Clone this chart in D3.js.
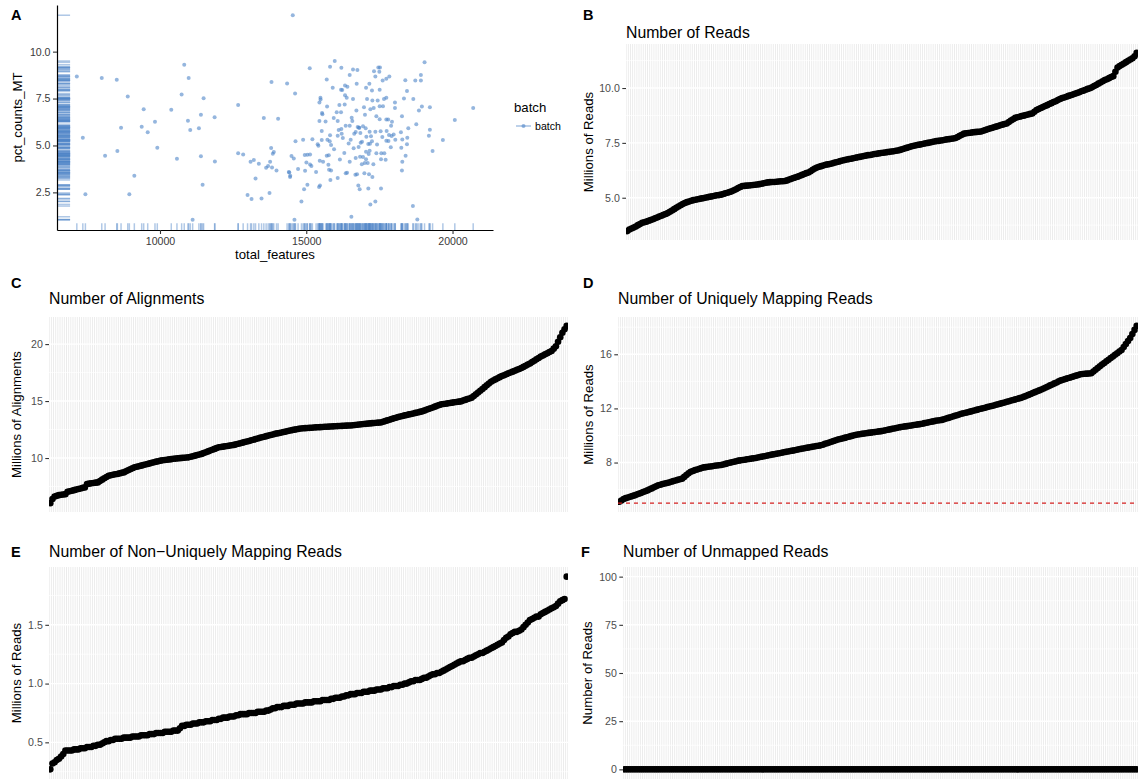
<!DOCTYPE html>
<html>
<head>
<meta charset="utf-8">
<script src="https://cdn.jsdelivr.net/npm/d3@7"></script>
<style>
  body { margin: 0; background: #fff; }
  svg { display: block; font-family: "Liberation Sans", Arial, Helvetica, sans-serif; }
</style>
</head>
<body>
<svg id="fig" width="1138" height="779"></svg>
<script>
// ---------- Panel A: per-cell QC, [total_features, pct_counts_MT] ----------
const featuresVsMT = [
  [7157,8.68],[7362,5.41],[7450,2.40],[8010,8.59],[8123,4.45],[8522,8.50],[8543,4.70],[8669,5.95],[8898,7.61],[8952,2.40],
  [9123,3.38],[9375,6.00],[9443,6.93],[9580,5.70],[9829,6.27],[9908,4.88],[10386,6.90],[10580,4.29],[10740,7.71],[10829,9.30],
  [10956,6.32],[10980,8.59],[11034,5.82],[11116,1.04],[11331,5.92],[11399,6.63],[11399,4.42],[11457,2.90],[11491,7.52],[11867,6.50],
  [11877,4.15],[12672,7.16],[12672,4.58],[12843,4.52],[12993,2.36],[13096,4.13],[13130,2.15],[13208,4.22],[13266,3.24],[13379,4.03],
  [13471,2.18],[13549,6.47],[13628,3.81],[13696,3.90],[13744,2.47],[13765,4.13],[13799,4.86],[13812,8.38],[13830,3.83],[13857,4.56],
  [13891,4.65],[13983,3.67],[14038,6.43],[14345,8.30],[14403,3.58],[14420,3.56],[14447,3.32],[14452,3.38],[14495,4.44],[14539,11.94],
  [14573,4.31],[14597,1.04],[14618,7.77],[14632,5.22],[14720,3.74],
  [15973,9.50],[15813,9.20],[16200,9.14],[15119,9.11],[16598,9.05],[16748,9.02],[17464,9.16],[17520,9.16],[17316,8.95],[17498,8.93],
  [19044,9.43],[18919,8.75],[16485,8.75],[17362,8.68],[17840,8.68],[17737,8.55],[17612,8.46],[15700,8.52],[16325,8.20],[16406,8.13],
  [16724,8.29],[17157,8.29],[17044,8.07],[17509,7.97],[17247,7.93],[15904,8.07],[18386,8.48],[18727,8.46],[18919,8.46],[18443,7.90],
  [16188,7.97],[16230,7.95],[16325,7.68],[16383,7.54],[16598,7.48],[15485,7.54],[15490,7.45],[15450,7.29],[16132,7.15],[16314,7.18],
  [17078,7.48],[17260,7.39],[17441,7.39],[17657,7.48],[17737,7.54],[17509,7.09],[17623,7.09],[18032,7.29],[18340,7.50],[18659,7.48],
  [18953,7.07],[18851,6.86],[19226,7.04],[20706,7.00],[20078,6.36],[18761,6.13],[19226,5.84],[19192,5.52],[19318,4.70],[19670,5.29],
  [18272,6.56],[18032,7.00],[17930,6.27],[17737,6.38],[17800,6.38],[17509,6.40],[17396,6.56],[17305,6.99],[17191,6.93],[16973,7.04],
  [17007,6.64],[16714,6.86],[16553,6.48],[16575,6.31],[16188,6.77],[16041,6.77],[15939,6.47],[16075,6.31],[15540,6.73],[15450,6.31],
  [15712,7.07],[15660,6.28],[16348,6.05],[16485,6.05],[16758,5.98],[16815,5.95],[16940,6.02],[17031,5.92],[17167,5.73],[17362,5.73],
  [17543,5.76],[17748,5.77],[17828,5.56],[17918,5.50],[17987,5.59],[18044,5.30],[17737,5.25],[17810,5.24],[18236,5.70],[18454,5.41],
  [18488,5.92],[18283,5.32],[18443,5.06],[18249,4.88],[18396,4.45],[18283,4.13],[18271,3.67],[16200,5.88],[16109,5.82],[16211,5.63],
  [16075,5.52],[16519,5.30],[16690,5.72],[16640,5.63],[16849,5.66],[16800,5.95],[16906,5.20],[17054,5.47],[17213,5.49],[17247,5.22],
  [17120,5.08],[17043,4.66],[17167,4.72],[17134,4.54],[17396,4.58],[17566,4.58],[17668,4.58],[17555,4.26],[17714,4.24],[17043,4.27],
  [17100,4.06],[17000,4.06],[16900,4.00],[17294,4.00],[17260,3.32],[17145,3.47],[16987,3.52],[16735,3.47],[16680,3.44],[16394,3.54],
  [16350,3.52],[15802,5.23],[15848,5.03],[15723,5.30],[15415,4.98],[15529,5.29],[15700,4.45],[15770,4.48],[15575,4.13],[15461,4.18],
  [15757,3.97],[15848,3.67],[15825,3.16],[16075,3.27],[16485,4.13],[16690,4.33],[16840,4.40],[16940,4.38],[16860,5.14],[16790,4.92],
  [17178,5.09],[16780,2.86],[16826,2.67],[17122,2.70],[17555,2.70],[17191,1.86],[17362,2.02],[16542,1.20],[18645,1.77],[18796,1.06],
  [14835,2.02],[14926,2.67],[15039,2.90],[15438,2.79],[15470,2.86],[15005,4.09],[14949,4.49],[15039,4.51],[15130,4.52],[15130,3.99],
  [15176,3.90],[14960,3.65],[14892,5.30],[15210,5.33],[15390,5.06],[15336,3.58],[15780,3.70],[15529,5.77],[15552,6.66],[15813,5.54],
  [16250,5.40],[16450,5.10],[16620,4.85],[17420,5.05],[17600,5.45],[17890,4.90],[16300,4.60],[15950,4.80],[16150,4.25],[17900,6.05]
];
const featureTicks = [10000, 15000, 20000];
const mtTicks = [2.5, 5.0, 7.5, 10.0];
const mtTickLabels = ["2.5", "5.0", "7.5", "10.0"];
const batchLevels = ["batch"];

// ---------- Panels B-F: per-cell mapping statistics, sorted ascending ----------
const numReads = [
  3.48,3.55,3.60,3.64,3.69,3.75,3.80,3.86,3.88,3.91,
  3.95,3.98,4.02,4.06,4.10,4.14,4.18,4.22,4.26,4.30,
  4.36,4.42,4.48,4.54,4.60,4.66,4.71,4.76,4.80,4.83,
  4.86,4.89,4.91,4.93,4.95,4.97,4.99,5.01,5.03,5.05,
  5.07,5.09,5.11,5.12,5.14,5.17,5.20,5.23,5.26,5.29,
  5.34,5.39,5.44,5.49,5.53,5.54,5.55,5.56,5.57,5.58,
  5.59,5.60,5.62,5.64,5.66,5.68,5.70,5.71,5.72,5.72,
  5.73,5.74,5.75,5.75,5.76,5.79,5.83,5.86,5.90,5.93,
  5.96,6.00,6.04,6.08,6.12,6.15,6.21,6.27,6.33,6.38,
  6.41,6.44,6.47,6.50,6.52,6.54,6.56,6.59,6.62,6.64,
  6.67,6.70,6.72,6.74,6.76,6.78,6.80,6.82,6.84,6.86,
  6.88,6.90,6.92,6.94,6.95,6.97,6.99,7.00,7.02,7.04,
  7.05,7.06,7.08,7.09,7.11,7.12,7.14,7.15,7.18,7.21,
  7.24,7.27,7.30,7.33,7.36,7.38,7.40,7.42,7.44,7.46,
  7.48,7.50,7.52,7.54,7.56,7.58,7.59,7.61,7.62,7.64,
  7.66,7.67,7.69,7.70,7.72,7.77,7.82,7.87,7.92,7.94,
  7.95,7.96,7.98,7.99,8.00,8.01,8.02,8.05,8.09,8.12,
  8.15,8.18,8.21,8.24,8.27,8.30,8.33,8.36,8.38,8.45,
  8.52,8.58,8.64,8.67,8.69,8.72,8.74,8.77,8.79,8.82,
  8.84,8.92,9.00,9.04,9.09,9.13,9.18,9.22,9.27,9.31,
  9.36,9.40,9.45,9.50,9.54,9.57,9.60,9.64,9.67,9.70,
  9.74,9.77,9.81,9.85,9.88,9.92,9.96,9.99,10.03,10.09,
  10.14,10.20,10.25,10.31,10.36,10.40,10.45,10.50,10.54,10.74,
  10.93,11.00,11.06,11.12,11.18,11.24,11.30,11.36,11.45,11.60
];
const numAlignments = [
  6.04,6.40,6.62,6.68,6.74,6.77,6.80,6.83,7.04,7.08,
  7.13,7.18,7.23,7.28,7.33,7.38,7.42,7.72,7.75,7.78,
  7.81,7.84,7.86,7.98,8.10,8.22,8.34,8.45,8.49,8.53,
  8.57,8.60,8.65,8.70,8.74,8.83,8.92,9.01,9.10,9.18,
  9.23,9.28,9.33,9.38,9.43,9.48,9.53,9.58,9.63,9.68,
  9.72,9.77,9.80,9.83,9.85,9.88,9.90,9.93,9.95,9.97,
  9.99,10.01,10.02,10.04,10.06,10.11,10.16,10.21,10.26,10.31,
  10.36,10.43,10.51,10.58,10.65,10.72,10.80,10.87,10.94,10.97,
  11.00,11.03,11.06,11.09,11.12,11.15,11.20,11.25,11.30,11.35,
  11.40,11.45,11.50,11.56,11.61,11.66,11.71,11.77,11.82,11.87,
  11.92,11.97,12.02,12.07,12.12,12.16,12.20,12.24,12.28,12.32,
  12.37,12.41,12.45,12.49,12.52,12.56,12.59,12.61,12.62,12.64,
  12.65,12.66,12.68,12.69,12.70,12.71,12.72,12.74,12.75,12.76,
  12.77,12.78,12.79,12.80,12.81,12.82,12.83,12.84,12.85,12.86,
  12.88,12.90,12.92,12.94,12.96,12.98,13.00,13.02,13.04,13.06,
  13.08,13.10,13.11,13.12,13.18,13.24,13.30,13.36,13.42,13.48,
  13.54,13.60,13.65,13.69,13.74,13.78,13.83,13.87,13.91,13.96,
  14.00,14.05,14.09,14.16,14.23,14.30,14.37,14.44,14.51,14.58,
  14.65,14.71,14.74,14.77,14.80,14.83,14.86,14.89,14.92,14.95,
  14.97,15.04,15.10,15.17,15.23,15.30,15.45,15.60,15.75,15.90,
  16.06,16.22,16.38,16.54,16.70,16.80,16.90,17.00,17.10,17.20,
  17.27,17.35,17.43,17.50,17.58,17.66,17.74,17.82,17.90,18.00,
  18.10,18.20,18.30,18.42,18.54,18.66,18.78,18.90,19.00,19.10,
  19.20,19.30,19.40,19.60,19.80,20.20,20.60,21.00,21.30,21.60
];
const numUniqueReads = [
  5.10,5.19,5.31,5.37,5.42,5.47,5.52,5.57,5.63,5.69,
  5.75,5.82,5.88,5.94,6.02,6.09,6.17,6.25,6.32,6.36,
  6.41,6.45,6.49,6.53,6.58,6.63,6.67,6.72,6.76,6.81,
  6.94,7.07,7.20,7.32,7.38,7.44,7.49,7.54,7.59,7.64,
  7.66,7.69,7.71,7.73,7.76,7.78,7.80,7.82,7.86,7.90,
  7.94,7.98,8.02,8.06,8.10,8.14,8.16,8.19,8.21,8.24,
  8.26,8.29,8.31,8.34,8.37,8.41,8.44,8.47,8.50,8.54,
  8.57,8.60,8.63,8.66,8.69,8.72,8.76,8.79,8.82,8.85,
  8.88,8.91,8.94,8.98,9.01,9.04,9.07,9.10,9.13,9.16,
  9.19,9.22,9.24,9.27,9.32,9.38,9.43,9.48,9.54,9.59,
  9.65,9.70,9.74,9.78,9.82,9.86,9.91,9.95,9.99,10.03,
  10.07,10.09,10.12,10.14,10.16,10.19,10.21,10.23,10.25,10.28,
  10.30,10.32,10.35,10.39,10.42,10.45,10.49,10.52,10.55,10.59,
  10.62,10.64,10.67,10.69,10.72,10.74,10.77,10.79,10.82,10.84,
  10.87,10.91,10.94,10.98,11.01,11.04,11.08,11.11,11.13,11.15,
  11.20,11.25,11.30,11.35,11.40,11.45,11.50,11.55,11.60,11.64,
  11.68,11.72,11.76,11.80,11.85,11.89,11.93,11.97,12.01,12.05,
  12.10,12.14,12.18,12.22,12.27,12.31,12.35,12.40,12.44,12.49,
  12.53,12.58,12.62,12.67,12.71,12.76,12.80,12.87,12.93,13.00,
  13.07,13.13,13.20,13.27,13.33,13.40,13.47,13.55,13.62,13.70,
  13.77,13.85,13.92,14.00,14.07,14.12,14.17,14.22,14.27,14.32,
  14.37,14.42,14.47,14.52,14.54,14.56,14.57,14.58,14.60,14.72,
  14.86,14.99,15.12,15.24,15.36,15.48,15.60,15.72,15.84,15.96,
  16.08,16.20,16.32,16.54,16.76,16.98,17.20,17.50,17.80,18.10
];
const numMultiReads = [
  0.27,0.32,0.33,0.35,0.36,0.38,0.40,0.43,0.43,0.43,
  0.43,0.44,0.44,0.44,0.45,0.45,0.45,0.46,0.46,0.46,
  0.47,0.47,0.48,0.48,0.49,0.50,0.51,0.51,0.52,0.52,
  0.53,0.53,0.53,0.53,0.54,0.54,0.54,0.54,0.55,0.55,
  0.55,0.55,0.56,0.56,0.56,0.56,0.57,0.57,0.57,0.58,
  0.58,0.58,0.58,0.59,0.59,0.59,0.59,0.60,0.60,0.60,
  0.62,0.64,0.64,0.65,0.65,0.65,0.66,0.66,0.66,0.67,
  0.67,0.67,0.68,0.68,0.68,0.69,0.69,0.69,0.70,0.70,
  0.71,0.71,0.71,0.72,0.72,0.72,0.73,0.73,0.74,0.74,
  0.74,0.74,0.75,0.75,0.75,0.75,0.76,0.76,0.76,0.76,
  0.77,0.77,0.78,0.79,0.79,0.80,0.80,0.80,0.81,0.81,
  0.81,0.82,0.82,0.82,0.83,0.83,0.83,0.83,0.84,0.84,
  0.84,0.84,0.85,0.85,0.85,0.85,0.86,0.86,0.86,0.86,
  0.87,0.87,0.88,0.88,0.88,0.89,0.89,0.90,0.90,0.91,
  0.91,0.91,0.92,0.92,0.92,0.93,0.93,0.93,0.94,0.94,
  0.94,0.95,0.95,0.95,0.96,0.96,0.96,0.97,0.97,0.98,
  0.98,0.98,0.99,0.99,1.00,1.00,1.01,1.02,1.02,1.03,
  1.03,1.03,1.04,1.05,1.05,1.06,1.07,1.08,1.08,1.09,
  1.09,1.10,1.11,1.12,1.13,1.14,1.15,1.16,1.17,1.18,
  1.19,1.19,1.20,1.21,1.22,1.22,1.23,1.24,1.25,1.26,
  1.26,1.27,1.28,1.29,1.30,1.31,1.32,1.33,1.34,1.35,
  1.37,1.39,1.40,1.42,1.43,1.44,1.44,1.45,1.46,1.48,
  1.50,1.52,1.54,1.55,1.56,1.57,1.57,1.59,1.60,1.61,
  1.62,1.63,1.64,1.65,1.66,1.68,1.70,1.71,1.72,1.91
];
const numUnmapped = [
  0,0,0,0,0,0,0,0,0,0, 0,0,0,0,0,0,0,0,0,0, 0,0,0,0,0,0,0,0,0,0, 0,0,0,0,0,0,0,0,0,0,
  0,0,0,0,0,0,0,0,0,0, 0,0,0,0,0,0,0,0,0,0, 0,0,0,0,0,0,0,0,0,0, 0,0,0,0,0,0,0,0,0,0,
  0,0,0,0,0,0,0,0,0,0, 0,0,0,0,0,0,0,0,0,0, 0,0,0,0,0,0,0,0,0,0, 0,0,0,0,0,0,0,0,0,0,
  0,0,0,0,0,0,0,0,0,0, 0,0,0,0,0,0,0,0,0,0, 0,0,0,0,0,0,0,0,0,0, 0,0,0,0,0,0,0,0,0,0,
  0,0,0,0,0,0,0,0,0,0, 0,0,0,0,0,0,0,0,0,0, 0,0,0,0,0,0,0,0,0,0, 0,0,0,0,0,0,0,0,0,0,
  0,0,0,0,0,0,0,0,0,0, 0,0,0,0,0,0,0,0,0,0, 0,0,0,0,0,0,0,0,0,0, 0,0,0,0,0,0,0,0,0,0
];
const uniqueReadsCutoff = 5;
const unmappedLimits = [0, 100];

const readsTicks = [5, 7.5, 10],           readsTickLabels = ["5.0", "7.5", "10.0"];
const alignTicks = [10, 15, 20],           alignTickLabels = ["10", "15", "20"];
const uniqueTicks = [8, 12, 16],           uniqueTickLabels = ["8", "12", "16"];
const multiTicks = [0.5, 1.0, 1.5],        multiTickLabels = ["0.5", "1.0", "1.5"];
const unmappedTicks = [0, 25, 50, 75, 100], unmappedTickLabels = ["0", "25", "50", "75", "100"];

// ---------- drawing ----------
const svg = d3.select("#fig");
const BLUE = "#4f86c8";

function expand(ext, mult = 0.05) {
  const s = ext[1] - ext[0];
  return [ext[0] - s * mult, ext[1] + s * mult];
}

function tag(letter, x, y) {
  svg.append("text").attr("x", x).attr("y", y).text(letter)
    .attr("font-size", 14.5).attr("font-weight", "bold").attr("fill", "#000");
}

// Panel A: scatter with marginal rugs
(function () {
  const L = 57, R = 493, T = 5, B = 230;
  const x = d3.scaleLinear().domain(expand(d3.extent(featuresVsMT, d => d[0]))).range([L, R]);
  const y = d3.scaleLinear().domain(expand(d3.extent(featuresVsMT, d => d[1]))).range([B, T]);
  const g = svg.append("g");

  g.append("g").selectAll("line").data(featuresVsMT).join("line")
    .attr("x1", L).attr("x2", L + 0.03 * (R - L))
    .attr("y1", d => y(d[1])).attr("y2", d => y(d[1]))
    .attr("stroke", BLUE).attr("stroke-opacity", 0.45).attr("stroke-width", 1.5);
  g.append("g").selectAll("line").data(featuresVsMT).join("line")
    .attr("x1", d => x(d[0])).attr("x2", d => x(d[0]))
    .attr("y1", B).attr("y2", B - 0.03 * (B - T))
    .attr("stroke", BLUE).attr("stroke-opacity", 0.45).attr("stroke-width", 1.5);

  g.append("g").selectAll("circle").data(featuresVsMT).join("circle")
    .attr("cx", d => x(d[0])).attr("cy", d => y(d[1])).attr("r", 2)
    .attr("fill", BLUE).attr("fill-opacity", 0.6);

  const xa = g.append("g").attr("transform", `translate(0,${B})`)
    .call(d3.axisBottom(x).tickValues(featureTicks).tickFormat(d3.format("d"))
      .tickSize(4).tickSizeOuter(0).tickPadding(3));
  const ya = g.append("g").attr("transform", `translate(${L},0)`)
    .call(d3.axisLeft(y).tickValues(mtTicks).tickFormat((d, i) => mtTickLabels[i])
      .tickSize(4).tickSizeOuter(0).tickPadding(2.5));
  [xa, ya].forEach(a => {
    a.select(".domain").attr("stroke", "#000").attr("stroke-width", 1.2);
    a.selectAll(".tick line").attr("stroke", "#333").attr("stroke-width", 1.1);
    a.selectAll(".tick text").attr("fill", "#3a3a3a").attr("font-size", 10.6)
      .attr("font-family", null);
  });

  g.append("text").attr("x", (L + R) / 2).attr("y", 259).attr("text-anchor", "middle")
    .attr("font-size", 13.2).text("total_features");
  g.append("text").attr("transform", `translate(22,${(T + B) / 2}) rotate(-90)`)
    .attr("text-anchor", "middle").attr("font-size", 13.2).text("pct_counts_MT");

  // legend
  const lg = g.append("g");
  lg.append("text").attr("x", 514).attr("y", 112).attr("font-size", 13.2).text("batch");
  lg.selectAll("g.key").data(batchLevels).join("g").attr("class", "key")
    .each(function (d, i) {
      const k = d3.select(this), ky = 126 + i * 17;
      k.append("line").attr("x1", 516).attr("x2", 531).attr("y1", ky).attr("y2", ky)
        .attr("stroke", BLUE).attr("stroke-opacity", 0.5).attr("stroke-width", 1.5);
      k.append("circle").attr("cx", 523.5).attr("cy", ky).attr("r", 2)
        .attr("fill", BLUE).attr("fill-opacity", 0.6);
      k.append("text").attr("x", 535).attr("y", ky + 3.8).attr("font-size", 10.6).text(d);
    });
  tag("A", 11, 20);
})();

// Panels B-F: sorted per-cell values on a discrete axis
function seriesPanel(p) {
  const [L, T, R, B] = p.box;
  const n = p.values.length;
  const x = d3.scalePoint().domain(d3.range(n)).range([L, R]).padding(0.6);
  const dom = p.limits ? expand(p.limits)
    : expand(d3.extent(p.hline != null ? p.values.concat([p.hline]) : p.values));
  const y = d3.scaleLinear().domain(dom).range([B, T]);
  const g = svg.append("g");
  const clipId = "clip" + p.tag;
  svg.append("clipPath").attr("id", clipId)
    .append("rect").attr("x", L).attr("y", T).attr("width", R - L).attr("height", B - T);

  g.append("rect").attr("x", L).attr("y", T).attr("width", R - L).attr("height", B - T)
    .attr("fill", "#ebebeb");

  const step = p.ticks[1] - p.ticks[0];
  const minors = [p.ticks[0] - step / 2]
    .concat(p.ticks.map(t => t + step / 2))
    .filter(v => v >= dom[0] && v <= dom[1]);
  g.append("g").selectAll("line").data(minors).join("line")
    .attr("x1", L).attr("x2", R).attr("y1", d => y(d)).attr("y2", d => y(d))
    .attr("stroke", "#fff").attr("stroke-width", 0.7);
  g.append("g").selectAll("line").data(d3.range(n)).join("line")
    .attr("x1", d => x(d)).attr("x2", d => x(d)).attr("y1", T).attr("y2", B)
    .attr("stroke", "#fff").attr("stroke-width", 1.25);
  g.append("g").selectAll("line").data(p.ticks).join("line")
    .attr("x1", L).attr("x2", R).attr("y1", d => y(d)).attr("y2", d => y(d))
    .attr("stroke", "#fff").attr("stroke-width", 1.4);

  const pts = g.append("g").attr("clip-path", `url(#${clipId})`);
  pts.selectAll("circle").data(p.values).join("circle")
    .attr("cx", (d, i) => x(i)).attr("cy", d => y(d)).attr("r", 3.3).attr("fill", "#000");
  if (p.hline != null) {
    pts.append("line").attr("x1", L).attr("x2", R)
      .attr("y1", y(p.hline)).attr("y2", y(p.hline))
      .attr("stroke", "#d42020").attr("stroke-width", 1.1).attr("stroke-dasharray", "4,4");
  }

  const ya = g.append("g").attr("transform", `translate(${L},0)`)
    .call(d3.axisLeft(y).tickValues(p.ticks).tickFormat((d, i) => p.tickLabels[i])
      .tickSize(3.7).tickSizeOuter(0).tickPadding(2.5));
  ya.select(".domain").remove();
  ya.selectAll(".tick line").attr("stroke", "#333").attr("stroke-width", 1.1);
  ya.selectAll(".tick text").attr("fill", "#4d4d4d").attr("font-size", 10.6)
    .attr("font-family", null);

  g.append("text").attr("x", L).attr("y", p.titleY).attr("font-size", 15.8).text(p.title);
  g.append("text").attr("transform", `translate(${p.ytitleX},${(T + B) / 2}) rotate(-90)`)
    .attr("text-anchor", "middle").attr("font-size", 13.2).text(p.ytitle);
  tag(p.tag, p.tagPos[0], p.tagPos[1]);
}

seriesPanel({ tag: "B", title: "Number of Reads", ytitle: "Millions of Reads",
  values: numReads, ticks: readsTicks, tickLabels: readsTickLabels,
  box: [626, 44, 1138, 240], titleY: 38, ytitleX: 593, tagPos: [583, 20] });
seriesPanel({ tag: "C", title: "Number of Alignments", ytitle: "Millions of Alignments",
  values: numAlignments, ticks: alignTicks, tickLabels: alignTickLabels,
  box: [49, 317, 568, 512], titleY: 304, ytitleX: 21, tagPos: [11, 288] });
seriesPanel({ tag: "D", title: "Number of Uniquely Mapping Reads", ytitle: "Millions of Reads",
  values: numUniqueReads, ticks: uniqueTicks, tickLabels: uniqueTickLabels, hline: uniqueReadsCutoff,
  box: [618, 317, 1138, 512], titleY: 304, ytitleX: 593, tagPos: [583, 288] });
seriesPanel({ tag: "E", title: "Number of Non\u2212Uniquely Mapping Reads", ytitle: "Millions of Reads",
  values: numMultiReads, ticks: multiTicks, tickLabels: multiTickLabels,
  box: [49, 567, 568, 779], titleY: 557, ytitleX: 21, tagPos: [11, 557] });
seriesPanel({ tag: "F", title: "Number of Unmapped Reads", ytitle: "Number of Reads",
  values: numUnmapped, ticks: unmappedTicks, tickLabels: unmappedTickLabels, limits: unmappedLimits,
  box: [623, 567, 1138, 779], titleY: 557, ytitleX: 592, tagPos: [581, 557] });
</script>
</body>
</html>
